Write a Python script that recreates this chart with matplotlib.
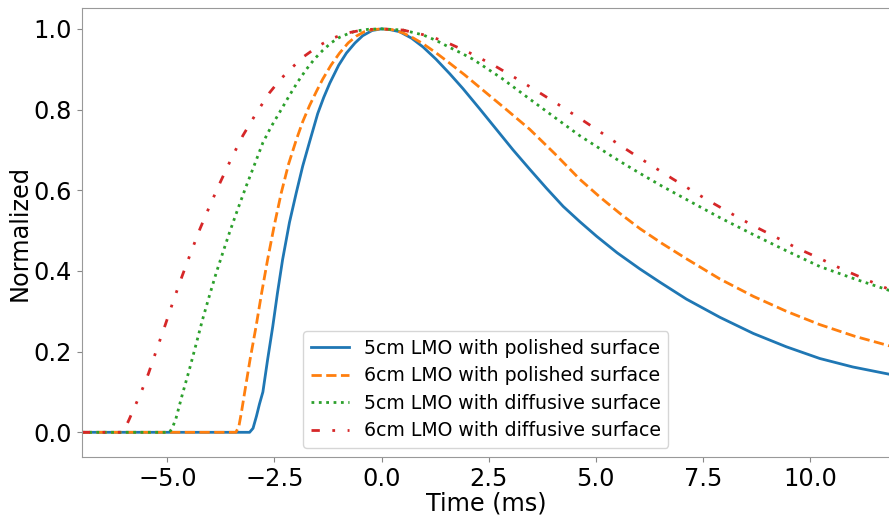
import matplotlib
matplotlib.use("Agg")
import matplotlib.pyplot as plt

# ---- data ----
labels = ["5cm LMO with polished surface",
          "6cm LMO with polished surface",
          "5cm LMO with diffusive surface",
          "6cm LMO with diffusive surface"]

t_5cm_pol = [-7, -3.08, -3.0, -2.92, -2.85, -2.77, -2.66, -2.54, -2.43, -2.31, -2.15, -1.99, -1.84, -1.68,
             -1.49, -1.35, -1.21, -1.0, -0.82, -0.62, -0.44, -0.22, 0.0,
             0.2, 0.42, 0.7, 0.97, 1.27, 1.59, 1.90, 2.29, 2.68, 3.07, 3.46, 3.85, 4.24, 4.63, 5.02,
             5.5, 6.03, 6.5, 7.12, 7.9, 8.68, 9.45, 10.23, 11.0, 11.9]
v_5cm_pol = [0, 0, 0.01, 0.04, 0.07, 0.10, 0.18, 0.262, 0.345, 0.428, 0.52, 0.594, 0.66, 0.72,
             0.79, 0.83, 0.865, 0.91, 0.94, 0.965, 0.983, 0.996, 1.0,
             0.998, 0.993, 0.977, 0.955, 0.925, 0.889, 0.852, 0.802, 0.751, 0.70, 0.652, 0.605, 0.560, 0.522, 0.486,
             0.445, 0.405, 0.372, 0.330, 0.285, 0.245, 0.212, 0.183, 0.162, 0.143]

t_6cm_pol = [-7, -3.40, -3.33, -3.27, -3.20, -3.07, -2.93, -2.80, -2.66, -2.50, -2.34, -2.17, -1.99, -1.84,
             -1.68, -1.52, -1.37, -1.18, -0.98, -0.78, -0.59, -0.40, -0.2, 0.0,
             0.25, 0.5, 0.73, 0.97, 1.28, 1.59, 1.94, 2.29, 2.88, 3.46, 4.05, 4.63, 5.1, 5.56, 6.03,
             6.55, 7.12, 7.9, 8.68, 9.45, 10.23, 11.05, 11.9]
v_6cm_pol = [0, 0, 0.015, 0.05, 0.096, 0.18, 0.262, 0.345, 0.428, 0.515, 0.594, 0.665, 0.725, 0.77,
             0.81, 0.845, 0.876, 0.91, 0.94, 0.965, 0.982, 0.993, 0.998, 1.0,
             0.998, 0.99, 0.978, 0.963, 0.94, 0.915, 0.886, 0.855, 0.803, 0.751, 0.69, 0.627, 0.583, 0.543, 0.505,
             0.468, 0.43, 0.38, 0.337, 0.30, 0.267, 0.238, 0.213]

t_5cm_dif = [-7, -4.95, -4.88, -4.80, -4.65, -4.49, -4.33, -4.18, -4.02, -3.86, -3.70, -3.55, -3.35, -3.16,
             -2.96, -2.77, -2.58, -2.38, -2.15, -1.96, -1.76, -1.56, -1.37, -1.17, -0.98, -0.78, -0.59, -0.3, 0.0,
             0.5, 0.97, 1.28, 1.59, 1.86, 2.13, 2.8, 3.46, 4.05, 4.63, 5.1, 5.56, 6.03, 6.55, 7.12,
             7.9, 8.68, 9.45, 10.23, 11.05, 11.9]
v_5cm_dif = [0, 0, 0.012, 0.034, 0.094, 0.154, 0.218, 0.279, 0.338, 0.395, 0.447, 0.495, 0.555, 0.61,
             0.665, 0.718, 0.757, 0.793, 0.835, 0.868, 0.899, 0.926, 0.947, 0.966, 0.979, 0.988, 0.995, 0.999, 1.0,
             0.997, 0.985, 0.971, 0.954, 0.94, 0.925, 0.878, 0.826, 0.78, 0.735, 0.703, 0.672, 0.642, 0.61, 0.577,
             0.532, 0.490, 0.45, 0.411, 0.38, 0.35]

t_6cm_dif = [-7, -6.05, -5.98, -5.9, -5.73, -5.58, -5.44, -5.25, -5.05, -4.86, -4.66, -4.45, -4.24, -4.0,
             -3.76, -3.5, -3.24, -2.93, -2.62, -2.36, -2.11, -1.82, -1.45, -1.14, -0.79, -0.4, 0.0,
             0.5, 1.12, 1.51, 2.05, 2.60, 3.1, 3.61, 4.12, 4.63, 5.1, 5.56, 5.95, 6.8, 7.59, 8.1, 8.68,
             9.2, 9.69, 10.25, 10.78, 11.35, 11.9]
v_6cm_dif = [0, 0, 0.012, 0.03, 0.071, 0.108, 0.146, 0.205, 0.266, 0.326, 0.386, 0.446, 0.504, 0.564,
             0.621, 0.68, 0.735, 0.79, 0.841, 0.875, 0.902, 0.931, 0.959, 0.977, 0.99, 0.998, 1.0,
             0.997, 0.982, 0.967, 0.941, 0.911, 0.88, 0.847, 0.813, 0.778, 0.745, 0.712, 0.685, 0.628, 0.577, 0.546, 0.512,
             0.484, 0.457, 0.43, 0.403, 0.377, 0.352]

x_ticks = [-5.0, -2.5, 0.0, 2.5, 5.0, 7.5, 10.0]
y_ticks = [0.0, 0.2, 0.4, 0.6, 0.8, 1.0]

# ---- figure ----
fig = plt.figure(figsize=(8.89, 5.15), dpi=100)
ax = fig.add_axes([0.0919, 0.112, 0.9092, 0.8719])

ax.plot(t_5cm_pol, v_5cm_pol, color="#1f77b4", lw=2, ls="-", label=labels[0])
ax.plot(t_6cm_pol, v_6cm_pol, color="#ff7f0e", lw=2, ls="--", label=labels[1])
ax.plot(t_5cm_dif, v_5cm_dif, color="#2ca02c", lw=2, ls=":", label=labels[2])
ax.plot(t_6cm_dif, v_6cm_dif, color="#d62728", lw=2, ls=(0, (3, 4.5, 1, 4.5, 1, 4.5)), label=labels[3])

ax.set_xlim(-7, 11.87)
ax.set_ylim(-0.062, 1.051)
ax.set_xticks(x_ticks)
ax.set_yticks(y_ticks)
ax.tick_params(labelsize=17.3, color="#888888")
for s in ax.spines.values():
    s.set_color("#999999")
ax.set_xlabel("Time (ms)", fontsize=17.3, labelpad=0)
ax.set_ylabel("Normalized", fontsize=17.3, labelpad=1)

ax.legend(loc="lower center", fontsize=13.6, labelspacing=0.45)

fig.savefig("out.png", dpi=100)
